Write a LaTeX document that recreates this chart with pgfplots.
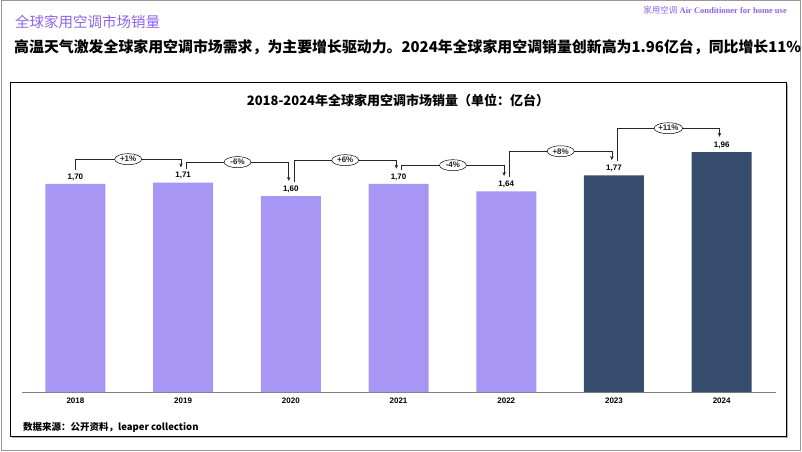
\documentclass[border=0pt]{standalone}
\usepackage{pgfplots}
\pgfplotsset{compat=1.18}
\usepackage{fontspec}
\setmainfont{Liberation Sans}
\newfontfamily\cjk{Noto Sans CJK SC}
\newfontfamily\serif{Liberation Serif}
\usetikzlibrary{shapes.geometric, arrows.meta}
\definecolor{lav}{RGB}{168,150,245}
\definecolor{navy}{RGB}{54,76,108}
\definecolor{ttl}{RGB}{140,100,235}
\tikzset{grw/.style={line width=0.6pt, black!85, -{Stealth[length=4pt,width=3.5pt]}},
  pct/.style={ellipse, draw=black, fill=white, line width=0.5pt, inner sep=0pt, minimum width=27pt, minimum height=11pt, font=\bfseries\fontsize{8}{8}\selectfont}}
\begin{document}
\begin{tikzpicture}[x=1pt,y=1pt]
\useasboundingbox (0,0) rectangle (802,451);
\draw[gray!80, line width=1pt] (1,1) rectangle (800,450);
\draw[gray!60, line width=1.2pt] (11.5,13.5) -- (787.5,13.5) -- (787.5,367);
\draw[black, line width=0.9pt] (10,15) rectangle (786,369);
\node[anchor=west, text=ttl, inner sep=0pt, font=\cjk\fontsize{14.5}{16}\selectfont] at (15,429) {全球家用空调市场销量};
\node[anchor=east, text=ttl, inner sep=0pt, font=\fontsize{8.5}{10}\selectfont] at (787,441) {{\cjk 家用空调} {\serif\bfseries Air Conditioner for home use}};
\node[anchor=west, inner sep=0pt, font=\cjk\bfseries\fontsize{14.9}{18}\selectfont] at (14,404) {高温天气激发全球家用空调市场需求，为主要增长驱动力。2024年全球家用空调销量创新高为1.96亿台，同比增长11\%};
\node[inner sep=0pt, font=\cjk\bfseries\fontsize{13}{15}\selectfont] at (398,351) {2018-2024年全球家用空调市场销量（单位：亿台）};
\node[anchor=west, inner sep=0pt, font=\cjk\bfseries\fontsize{9.5}{11}\selectfont] at (23,24) {数据来源：公开资料，leaper collection};

\begin{axis}[at={(20,48)}, anchor=south west, scale only axis,
  width=754pt, height=292pt, xmin=-0.5, xmax=6.5, ymin=0, ymax=2.3837,
  axis x line*=bottom, axis y line=none,
  x axis line style={draw=gray, line width=0.8pt, -},
  xtick={0,...,6}, xticklabels={2018,2019,2020,2021,2022,2023,2024},
  major tick length=0pt,
  xticklabel style={font=\bfseries\fontsize{8}{9}\selectfont, yshift=-2.5pt},
  ytick=\empty, clip=false,
  ybar, bar width=60pt,
  point meta=explicit symbolic, nodes near coords,
  every node near coord/.append style={font=\bfseries\fontsize{8}{9}\selectfont, black}]
\addplot[fill=lav, draw=none, bar shift=0pt] coordinates {(0,1.70) [1,70] (1,1.71) [1,71] (2,1.60) [1,60] (3,1.70) [1,70] (4,1.64) [1,64]};
\addplot[fill=navy, draw=none, bar shift=0pt] coordinates {(5,1.77) [1,77] (6,1.96) [1,96]};
\draw[grw] (axis cs:0.0,1.815) -- (axis cs:0.0,1.902) -- node[pct]{+1\%} (axis cs:0.98,1.902) -- (axis cs:0.98,1.835);
\draw[grw] (axis cs:1.03,1.825) -- (axis cs:1.03,1.878) -- node[pct]{-6\%} (axis cs:1.98,1.878) -- (axis cs:1.98,1.725);
\draw[grw] (axis cs:2.03,1.715) -- (axis cs:2.03,1.894) -- node[pct]{+6\%} (axis cs:2.98,1.894) -- (axis cs:2.98,1.825);
\draw[grw] (axis cs:3.03,1.815) -- (axis cs:3.03,1.853) -- node[pct]{-4\%} (axis cs:3.98,1.853) -- (axis cs:3.98,1.765);
\draw[grw] (axis cs:4.03,1.755) -- (axis cs:4.03,1.967) -- node[pct]{+8\%} (axis cs:4.98,1.967) -- (axis cs:4.98,1.895);
\draw[grw] (axis cs:5.03,1.885) -- (axis cs:5.03,2.155) -- node[pct]{+11\%} (axis cs:5.98,2.155) -- (axis cs:5.98,2.085);
\end{axis}
\end{tikzpicture}
\end{document}
